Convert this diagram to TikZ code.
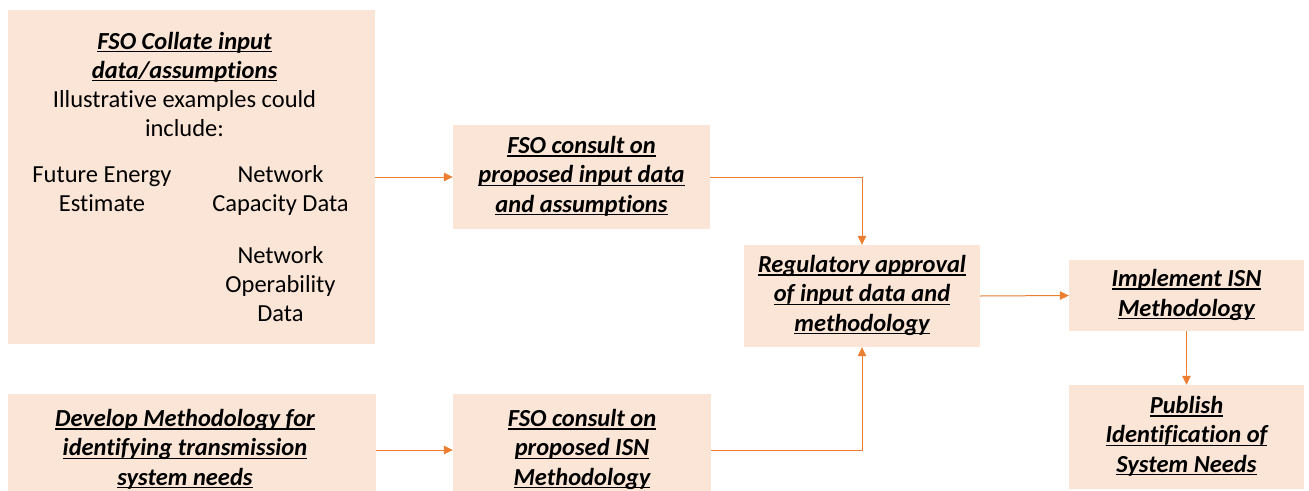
\documentclass[tikz,border=0pt]{standalone}
\usepackage{fontspec}
\setmainfont{Carlito}[Ligatures=NoCommon]
\usetikzlibrary{arrows.meta}

\definecolor{boxfill}{HTML}{FBE5D6}
\definecolor{flow}{HTML}{ED7D31}

% bold italic heading line with a flat underline
\newsavebox\ulinebox
\newcommand{\hd}[1]{\sbox\ulinebox{\bfseries\itshape #1}%
  \rlap{\rule[-3pt]{\wd\ulinebox}{1.3pt}}\usebox\ulinebox}
% centred stack of lines whose baseline is the first line
\newcommand{\textlines}[1]{\begin{tabular}[t]{@{}c@{}}#1\end{tabular}}

\begin{document}
\begin{tikzpicture}[x=1pt,y=-1pt,
  font=\fontsize{24.5}{29.3}\selectfont,
  box/.style={fill=boxfill,draw=none,inner sep=0pt},
  link/.style={draw=flow,line width=1pt,-{Triangle[length=9pt,width=8.5pt]}}]

\useasboundingbox (0,0) rectangle (1309,490);
\clip (0,0) rectangle (1309,490);

% input data box with its examples
\node[box,minimum width=367pt,minimum height=334pt] (collate) at (191.5,177) {};
\node[anchor=base] (collateTitle) at (184.5,49)
  {\textlines{\hd{FSO Collate input}\\\hd{data/assumptions}\\Illustrative examples could\\include:}};
\node[anchor=base] (energy) at (102,182) {\textlines{Future Energy\\Estimate}};
\node[anchor=base] (capacity) at (280.5,182) {\textlines{Network\\Capacity Data}};
\node[anchor=base] (operability) at (280.5,263) {\textlines{Network\\Operability\\Data}};

% methodology box
\node[box,minimum width=368pt,minimum height=112pt] (develop) at (192,450) {};
\node (developText) at (185,450)
  {\textlines{\hd{Develop Methodology for}\\\hd{identifying transmission}\\\hd{system needs}}};

% consultation boxes
\node[box,minimum width=257pt,minimum height=104pt] (consultData) at (581.5,177)
  {\textlines{\hd{FSO consult on}\\\hd{proposed input data}\\\hd{and assumptions}}};
\node[box,minimum width=258pt,minimum height=112pt] (consultISN) at (582,450)
  {\textlines{\hd{FSO consult on}\\\hd{proposed ISN}\\\hd{Methodology}}};

% approval and outcome boxes
\node[box,minimum width=236pt,minimum height=102pt] (approval) at (862,296)
  {\textlines{\hd{Regulatory approval}\\\hd{of input data and}\\\hd{methodology}}};
\node[box,minimum width=235pt,minimum height=71pt] (implement) at (1186.5,295.5)
  {\textlines{\hd{Implement ISN}\\\hd{Methodology}}};
\node[box,minimum width=235pt,minimum height=104pt] (publish) at (1186.5,437)
  {\textlines{\hd{Publish}\\\hd{Identification of}\\\hd{System Needs}}};

% connectors
\draw[link] (collate.east) -- (consultData.west);
\draw[link] (develop.east) -- (consultISN.west);
\draw[link] (consultData.east) -| (approval.north);
\draw[link] (consultISN.east) -| (approval.south);
\draw[link] (approval.east) -- (implement.west);
\draw[link] (implement.south) -- (publish.north);
\end{tikzpicture}
\end{document}
